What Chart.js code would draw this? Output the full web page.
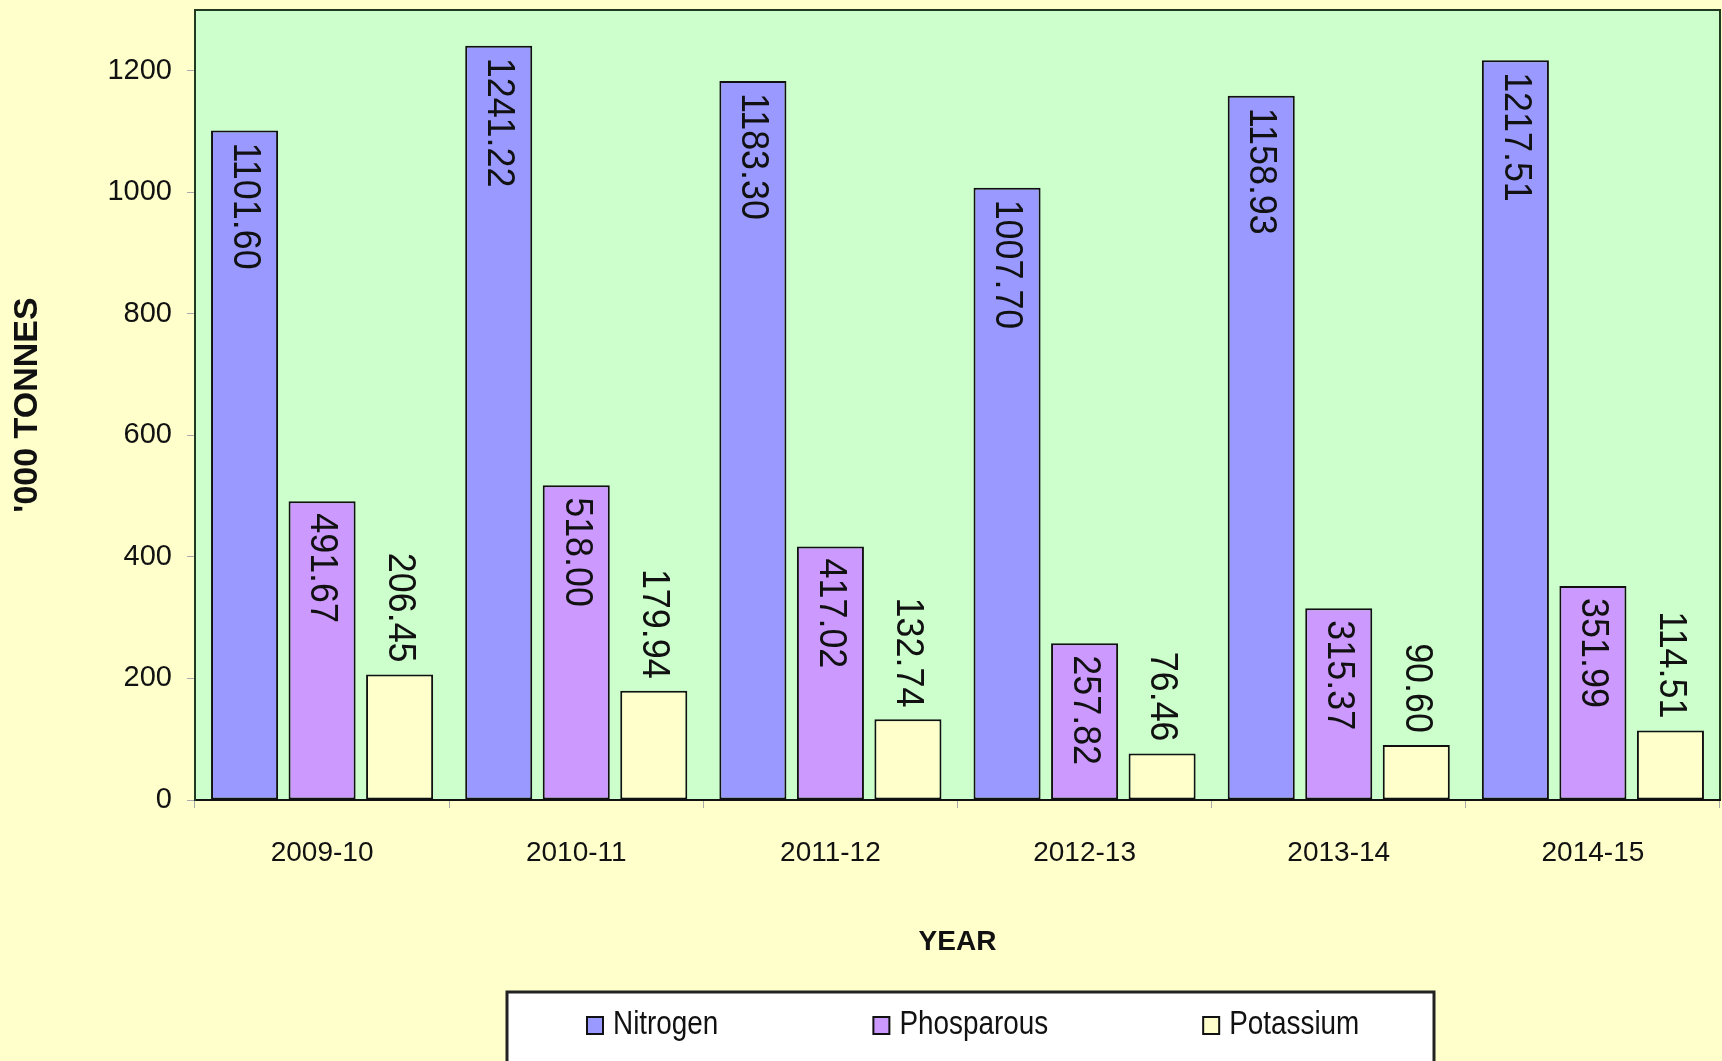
<!DOCTYPE html>
<html lang="en">
<head>
  <meta charset="UTF-8" />
  <title>Fertiliser consumption</title>
  <style>
    html, body {
      margin: 0;
      padding: 0;
      background: #FFFFCC;
    }
    #wrap {
      width: 1722px;
      height: 1061px;
    }
  </style>
</head>
<body>
  <div id="wrap"><canvas id="chart" width="1722" height="1061"></canvas></div>

  <script src="https://cdn.jsdelivr.net/npm/chart.js"></script>
  <script>
    const years = ["2009-10", "2010-11", "2011-12", "2012-13", "2013-14", "2014-15"];
    const nitrogen = [1101.60, 1241.22, 1183.30, 1007.70, 1158.93, 1217.51];
    const phosparous = [491.67, 518.00, 417.02, 257.82, 315.37, 351.99];
    const potassium = [206.45, 179.94, 132.74, 76.46, 90.60, 114.51];
    const seriesNames = ["Nitrogen", "Phosparous", "Potassium"];
    const seriesColors = ["#9999FF", "#CC99FF", "#FFFFCC"];
    const yMax = 1300;
    const yStep = 200;

    const sans = '"Liberation Sans", Arial, sans-serif';
    // labels inside the bar top for N and P, above the bar for K
    const labelInside = [true, true, false];
    // squeeze canvas-drawn text so it looks like Arial Narrow
    const squeeze = 0.82;

    const plotBg = {
      id: 'plotBg',
      beforeDraw(chart) {
        const { ctx, chartArea: a } = chart;
        ctx.save();
        ctx.fillStyle = '#FFFFCC';
        ctx.fillRect(0, 0, chart.width, chart.height);
        ctx.fillStyle = '#CCFFCC';
        ctx.fillRect(a.left, a.top, a.right - a.left, a.bottom - a.top);
        ctx.strokeStyle = '#1f3a1f';
        ctx.lineWidth = 2;
        ctx.strokeRect(a.left, a.top, a.right - a.left, a.bottom - a.top);
        ctx.restore();
      }
    };

    const barLabels = {
      id: 'barLabels',
      afterDatasetsDraw(chart) {
        const ctx = chart.ctx;
        ctx.save();
        ctx.font = '39px ' + sans;
        ctx.fillStyle = '#111';
        ctx.textBaseline = 'middle';
        chart.data.datasets.forEach((ds, i) => {
          chart.getDatasetMeta(i).data.forEach((bar, j) => {
            const txt = ds.data[j].toFixed(2);
            ctx.save();
            if (labelInside[i]) {
              ctx.translate(bar.x, bar.y + 12);
              ctx.textAlign = 'left';
            } else {
              ctx.translate(bar.x, bar.y - 12);
              ctx.textAlign = 'right';
            }
            ctx.rotate(Math.PI / 2);
            ctx.scale(0.92, 1);
            ctx.fillText(txt, 0, 0);
            ctx.restore();
          });
        });
        ctx.restore();
      }
    };

    const boxLegend = {
      id: 'boxLegend',
      afterDraw(chart) {
        const ctx = chart.ctx;
        ctx.save();
        ctx.fillStyle = '#ffffff';
        ctx.fillRect(507, 992, 927, 80);
        ctx.strokeStyle = '#222';
        ctx.lineWidth = 3;
        ctx.strokeRect(507, 992, 927, 80);
        ctx.font = '34px ' + sans;
        ctx.textBaseline = 'middle';
        ctx.textAlign = 'left';
        let x = 587;
        const y = 1025;
        chart.data.datasets.forEach(ds => {
          ctx.fillStyle = ds.backgroundColor;
          ctx.fillRect(x, y - 8, 16, 17);
          ctx.strokeStyle = '#111';
          ctx.lineWidth = 2;
          ctx.strokeRect(x, y - 8, 16, 17);
          ctx.fillStyle = '#111';
          ctx.save();
          ctx.translate(x + 26, y);
          ctx.scale(squeeze, 1);
          ctx.fillText(ds.label, 0, 0);
          ctx.restore();
          x += 26 + ctx.measureText(ds.label).width * squeeze + 155;
        });
        ctx.restore();
      }
    };

    new Chart(document.getElementById('chart'), {
      type: 'bar',
      data: {
        labels: years,
        datasets: [nitrogen, phosparous, potassium].map((vals, i) => ({
          label: seriesNames[i],
          data: vals,
          backgroundColor: seriesColors[i],
          borderColor: '#111',
          borderWidth: 2,
          borderSkipped: false,
          categoryPercentage: 0.915,
          barPercentage: 0.865
        }))
      },
      options: {
        responsive: false,
        animation: false,
        devicePixelRatio: 1,
        layout: { padding: { top: 10, right: 2, left: 0, bottom: 0 } },
        plugins: {
          legend: { display: false },
          tooltip: { enabled: false }
        },
        scales: {
          x: {
            grid: {
              offset: true,
              drawOnChartArea: false,
              drawTicks: true,
              tickLength: 8,
              color: '#aaaaaa'
            },
            border: { color: '#111', width: 2 },
            ticks: {
              color: '#111',
              padding: 28,
              font: { family: sans, size: 28 }
            },
            title: {
              display: true,
              text: 'YEAR',
              color: '#111',
              font: { family: sans, size: 28, weight: 'bold' },
              padding: { top: 0, bottom: 102 }
            },
            afterFit(scale) { scale.height = 261; }
          },
          y: {
            min: 0,
            max: yMax,
            grid: {
              drawOnChartArea: false,
              drawTicks: true,
              tickLength: 8,
              color: '#aaaaaa'
            },
            border: { color: '#1f3a1f', width: 2 },
            ticks: {
              stepSize: yStep,
              includeBounds: false,
              color: '#111',
              padding: 15,
              font: { family: sans, size: 29 },
              callback: v => String(v)
            },
            title: {
              display: true,
              text: "'000 TONNES",
              color: '#111',
              font: { family: sans, size: 34, weight: 'bold' },
              padding: { top: 7, bottom: 0 }
            },
            afterFit(scale) {
              scale.width = 195;
              scale.paddingTop = 0;
              scale.paddingBottom = 0;
            }
          }
        }
      },
      plugins: [plotBg, barLabels, boxLegend]
    });
  </script>
</body>
</html>
